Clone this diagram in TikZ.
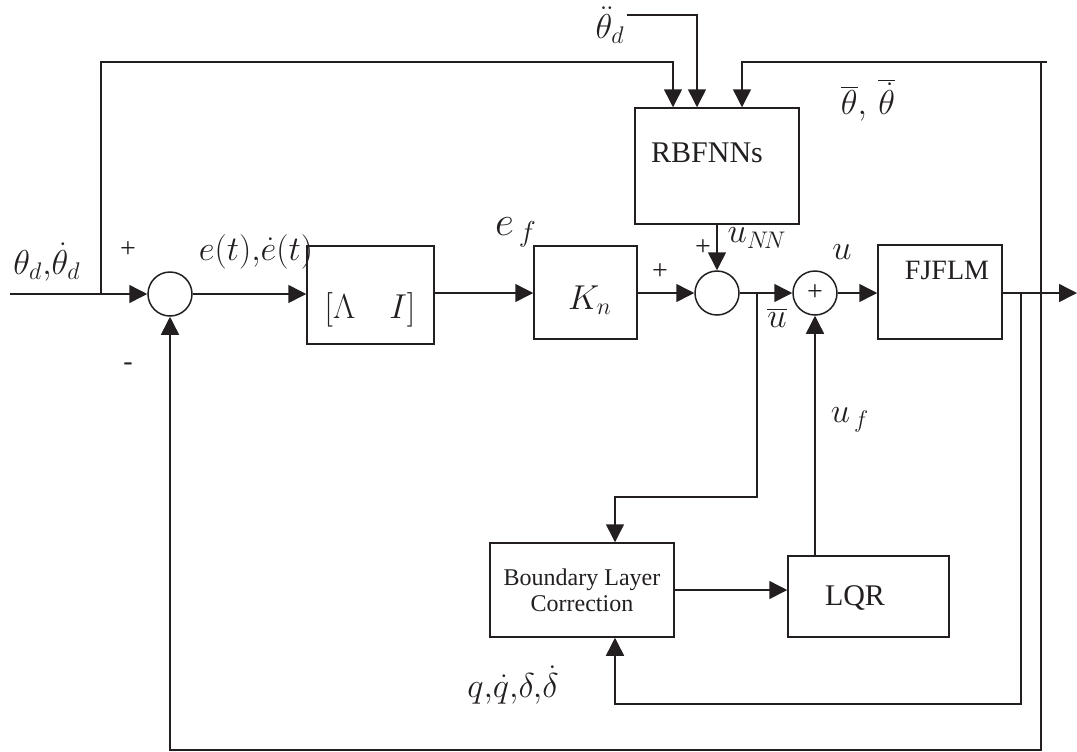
\documentclass[tikz,border=0pt]{standalone}
\usepackage{fontspec}
\setmainfont{Liberation Serif}
\usetikzlibrary{arrows.meta}
\definecolor{ctlInk}{HTML}{231F20}

\begin{document}
\begin{tikzpicture}[x=0.5pt, y=-0.5pt, line width=0.75pt, color=ctlInk,
    >={Triangle[length=9pt,width=9pt]},
    blk/.style={draw, inner sep=0pt},
    sumnode/.style={draw, circle, minimum size=22pt, inner sep=0pt},
    mlbl/.style={font=\fontsize{17}{19}\selectfont, inner sep=1pt},
    tlbl/.style={font=\fontsize{14}{16}\selectfont}]
  \useasboundingbox (0,0) rectangle (1077,751);
  % Summing junctions
  \node[sumnode] (s1) at (170,294) {};
  \node[sumnode] (s2) at (717,293) {};
  \node[sumnode, tlbl] (s3) at (815,293) {+};
  % Blocks (frame first, text set apart as in the figure)
  \node[blk, minimum width=63.5pt, minimum height=49pt] (lam) at (370.5,295) {};
  \node[mlbl] (lamtxt) at (370,310) {$[\Lambda\quad I]$};
  \node[blk, minimum width=51.5pt, minimum height=46.5pt] (kn) at (585.5,292.5) {};
  \node[mlbl] (kntxt) at (590,300) {$K_n$};
  \node[blk, minimum width=82pt, minimum height=58pt] (rbf) at (717,166) {};
  \node[font=\fontsize{15}{17}\selectfont] (rbftxt) at (707,153) {RBFNNs};
  \node[blk, minimum width=62pt, minimum height=47pt] (plant) at (940,292) {};
  \node[font=\fontsize{14}{16}\selectfont] (planttxt) at (947,270) {FJFLM};
  \node[blk, minimum width=92pt, minimum height=47pt, align=center,
        font=\fontsize{12}{13}\selectfont] (blc) at (582,590) {Boundary Layer\\Correction};
  \node[blk, minimum width=80.5pt, minimum height=40.5pt] (lqr) at (868.5,596.5) {};
  \node[font=\fontsize{15}{17}\selectfont] (lqrtxt) at (855,598) {LQR};
  % Branch points and corners
  \coordinate (inp) at (10,294);
  \coordinate (br1) at (101,294);
  \coordinate (tA) at (673,62);
  \coordinate (tB) at (627,15);
  \coordinate (tBd) at (697,15);
  \coordinate (tC) at (1041,62);
  \coordinate (tCx) at (742,62);
  \coordinate (pk1) at (1021,293);
  \coordinate (pk2) at (1041,293);
  \coordinate (pk3) at (757,293);
  \coordinate (yout) at (1077,293);
  \coordinate (fbA) at (1021,704);
  \coordinate (fbB) at (1041,750);
  \coordinate (bx) at (615,704);
  \coordinate (ubA) at (757,497);
  % Forward path
  \draw[->] (inp) -- (s1.west);
  \draw[->] (s1.east) -- (s1.east -| lam.west);
  \draw[->] (lam.east |- s2.west) -- (s2.west -| kn.west);
  \draw[->] (kn.east |- s2.west) -- (s2.west);
  \draw[->] (s2.east) -- (s3.west);
  \draw[->] (s3.east) -- (s3.east -| plant.west);
  \draw[->] (plant.east |- yout) -- (yout);
  \draw[->] (rbf.south -| s2.north) -- (s2.north);
  % Inputs of the RBFNNs
  \draw[->] (br1) |- (tA) -- (tA |- rbf.north);
  \draw[->] (tB) -- (tBd) -- (tBd |- rbf.north);
  \draw[->] (pk2) -- (tC) -- (tCx) -- (tCx |- rbf.north);
  \draw (tC) -- ++(6,0);
  % Boundary layer and LQR loop
  \draw[->] (pk3) -- (ubA) -| (bx |- blc.north);
  \draw[->] (blc.east) -- (blc.east -| lqr.west);
  \draw[->] (lqr.north -| s3.south) -- (s3.south);
  \draw[->] (pk1) -- (fbA) -- (bx) -- (bx |- blc.south);
  % Outer feedback
  \draw[->] (pk2) -- (fbB) -| (s1.south);
  % Signal labels
  \node[mlbl] (lthd) at (47,262) {$\theta_d,\!\dot{\theta}_d$};
  \node[tlbl] (lp1) at (128,250) {+};
  \node[tlbl] (lm1) at (128,367) {-};
  \node[mlbl] (le) at (256,252) {$e(t),\!\dot{e}(t)$};
  \node[font=\fontsize{20}{22}\selectfont] (lef) at (516,232) {$e_{\,f}$};
  \node[tlbl] (lp2) at (660,272) {+};
  \node[tlbl] (lp3) at (703,248) {+};
  \node[mlbl] (lunn) at (757,238) {$u_{N\!N}$};
  \node[mlbl] (lu) at (842,252) {$u$};
  \node[mlbl] (lubar) at (777,318) {$\overline{u}$};
  \node[mlbl] (luf) at (850,420) {$u_{\,f}$};
  \node[mlbl, font=\fontsize{16}{18}\selectfont] (lq) at (513,685) {$q,\!\dot{q},\!\delta,\!\dot{\delta}$};
  \node[mlbl] (lthdd) at (610,25) {$\ddot{\theta}_d$};
  \node[mlbl, font=\fontsize{18}{20}\selectfont] (lthb) at (868,100) {$\overline{\theta},\,\overline{\dot{\theta}}$};
\end{tikzpicture}
\end{document}
